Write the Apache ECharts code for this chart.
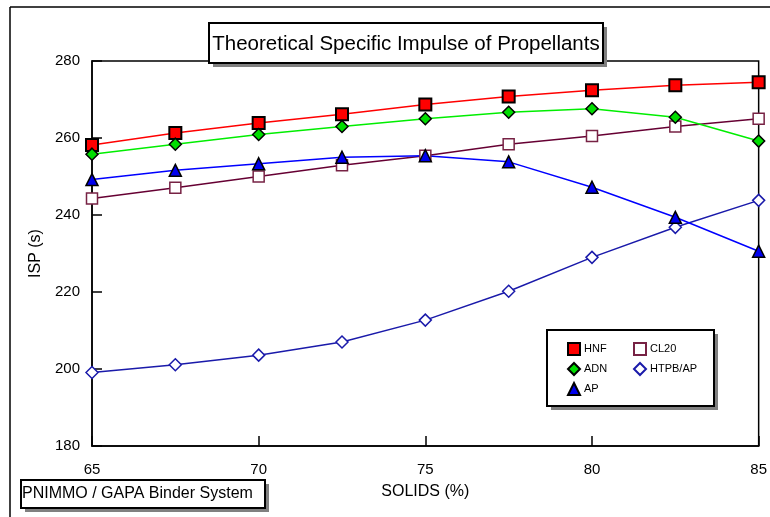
<!DOCTYPE html>
<html>
<head>
<meta charset="utf-8">
<script src="https://cdn.jsdelivr.net/npm/echarts@6/dist/echarts.min.js"></script>
<style>
  html, body { margin: 0; padding: 0; background: #fff; }
  #main { width: 770px; height: 517px; }
</style>
</head>
<body>
<div id="main"></div>
<script>
// solids (%) along x
const solids = [65, 67.5, 70, 72.5, 75, 77.5, 80, 82.5, 85];

// ISP (s) per propellant
const hnf = [258.2, 261.3, 263.9, 266.2, 268.7, 270.8, 272.4, 273.7, 274.5];
const adn = [255.8, 258.4, 260.9, 263.0, 265.0, 266.7, 267.6, 265.4, 259.2];
const cl20 = [244.3, 247.1, 250.0, 252.9, 255.4, 258.4, 260.5, 263.0, 265.0];
const htpbAp = [199.1, 201.1, 203.6, 207.0, 212.7, 220.2, 229.0, 236.8, 243.8];
const ap = [249.2, 251.6, 253.3, 255.0, 255.4, 253.8, 247.2, 239.4, 230.6];

const xTicks = [65, 70, 75, 80, 85];
const yTicks = [180, 200, 220, 240, 260, 280];

const pairs = (ys) => solids.map((x, i) => [x, ys[i]]);
const font = 'Liberation Sans, Arial, sans-serif';

const chart = echarts.init(document.getElementById('main'));

function mkSeries(name, data, lineColor, symbol, size, fill, border, bw) {
  return {
    name: name,
    type: 'line',
    data: pairs(data),
    symbol: symbol,
    symbolSize: size,
    lineStyle: { color: lineColor, width: 1.5 },
    itemStyle: { color: fill, borderColor: border, borderWidth: bw },
    emphasis: { disabled: true },
    z: 3
  };
}

const legendText = { fontSize: 11, color: '#000', fontFamily: font, padding: [0, 0, 0, -1] };

const option = {
  animation: false,
  textStyle: { fontFamily: font },
  grid: {
    left: 92, right: 5, top: 61, bottom: 71,
    show: true, borderColor: '#000', borderWidth: 1.5
  },
  xAxis: {
    type: 'value',
    min: xTicks[0], max: xTicks[xTicks.length - 1], interval: 5,
    name: 'SOLIDS (%)', nameLocation: 'middle', nameGap: 38,
    nameTextStyle: { color: '#000', fontSize: 16, fontFamily: font },
    axisLine: { show: true, lineStyle: { color: '#000', width: 1.5 } },
    axisTick: { show: true, inside: true, length: 10, lineStyle: { color: '#000', width: 1.5 } },
    axisLabel: { color: '#000', fontSize: 15, margin: 16, fontFamily: font },
    splitLine: { show: false }
  },
  yAxis: {
    type: 'value',
    min: yTicks[0], max: yTicks[yTicks.length - 1], interval: 20,
    name: 'ISP (s)', nameLocation: 'middle', nameGap: 46,
    nameTextStyle: { color: '#000', fontSize: 16, fontFamily: font },
    axisLine: { show: true, lineStyle: { color: '#000', width: 1.5 } },
    axisTick: { show: true, inside: true, length: 10, lineStyle: { color: '#000', width: 1.5 } },
    axisLabel: { color: '#000', fontSize: 15, margin: 12, fontFamily: font },
    splitLine: { show: false }
  },
  legend: [
    {
      left: 567, top: 342, orient: 'vertical', itemGap: 6, padding: 0,
      itemWidth: 12, itemHeight: 12, z: 20,
      textStyle: legendText,
      data: [
        { name: 'HNF', icon: 'rect' },
        { name: 'ADN', icon: 'diamond' },
        { name: 'AP', icon: 'triangle' }
      ]
    },
    {
      left: 633, top: 342, orient: 'vertical', itemGap: 6, padding: 0,
      itemWidth: 12, itemHeight: 12, z: 20,
      textStyle: legendText,
      data: [
        { name: 'CL20', icon: 'rect' },
        { name: 'HTPB/AP', icon: 'diamond' }
      ]
    }
  ],
  series: [
    mkSeries('HNF', hnf, '#ff0000', 'rect', 12, '#ff0000', '#000', 2),
    mkSeries('CL20', cl20, '#660033', 'rect', 11, '#fff', '#772244', 1.5),
    mkSeries('ADN', adn, '#00ee00', 'diamond', 12, '#00dd00', '#000', 1.5),
    mkSeries('HTPB/AP', htpbAp, '#1a1aaa', 'diamond', 12, '#fff', '#1a1aaa', 1.5),
    mkSeries('AP', ap, '#0000ff', 'triangle', 12, '#0000ee', '#000', 1.5)
  ],
  graphic: [
    // outer frame
    { type: 'line', shape: { x1: 10, y1: 7, x2: 10, y2: 517 }, style: { stroke: '#000', lineWidth: 1.5 }, z: 1 },
    { type: 'line', shape: { x1: 10, y1: 7, x2: 770, y2: 7 }, style: { stroke: '#000', lineWidth: 1.5 }, z: 1 },
    // title box
    { type: 'rect', shape: { x: 213, y: 27, width: 394, height: 40 }, style: { fill: '#808080' }, z: 10 },
    { type: 'rect', shape: { x: 209, y: 23, width: 394, height: 40 }, style: { fill: '#fff', stroke: '#000', lineWidth: 2 }, z: 11 },
    { type: 'text', x: 406, y: 44, style: { text: 'Theoretical Specific Impulse of Propellants', font: '20.5px ' + font, fill: '#000', align: 'center', verticalAlign: 'middle' }, z: 12 },
    // legend box
    { type: 'rect', shape: { x: 551, y: 334, width: 167, height: 76 }, style: { fill: '#808080' }, z: 10 },
    { type: 'rect', shape: { x: 547, y: 330, width: 167, height: 76 }, style: { fill: '#fff', stroke: '#000', lineWidth: 2 }, z: 11 },
    // binder system box
    { type: 'rect', shape: { x: 25, y: 484, width: 244, height: 28 }, style: { fill: '#808080' }, z: 10 },
    { type: 'rect', shape: { x: 21, y: 480, width: 244, height: 28 }, style: { fill: '#fff', stroke: '#000', lineWidth: 2 }, z: 11 },
    { type: 'text', x: 22, y: 494, style: { text: 'PNIMMO / GAPA Binder System', font: '16px ' + font, fill: '#000', align: 'left', verticalAlign: 'middle' }, z: 12 }
  ]
};

chart.setOption(option);
</script>
</body>
</html>
